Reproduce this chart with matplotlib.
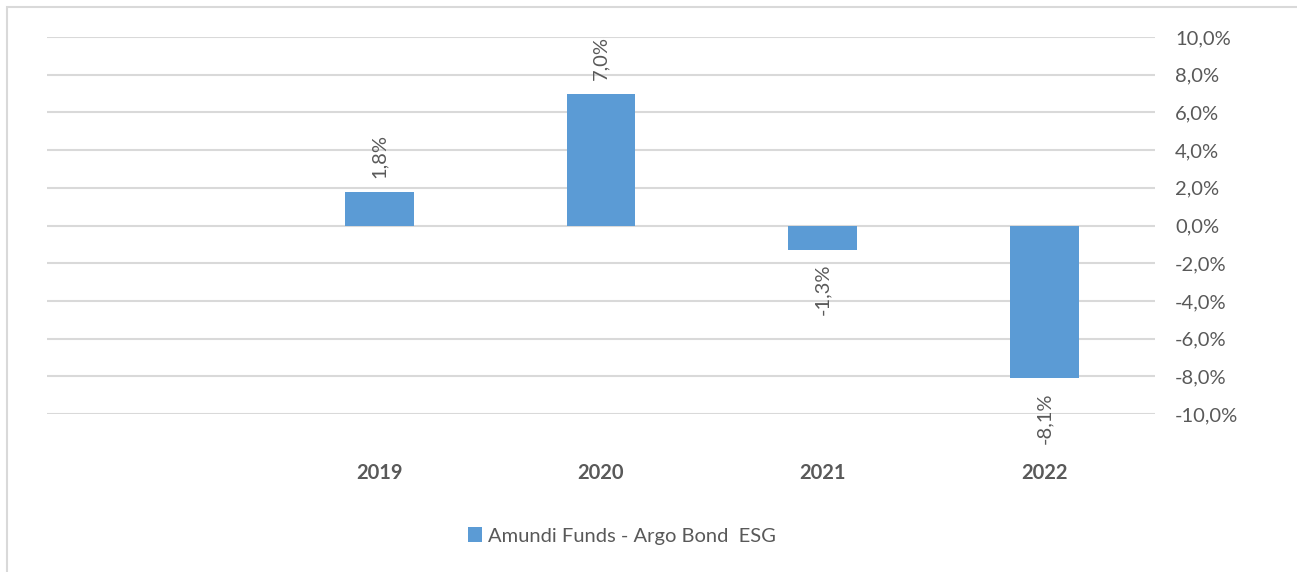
import numpy as np
import matplotlib
matplotlib.use('Agg')
import matplotlib.pyplot as plt
from matplotlib.patches import Rectangle

# Data
years = ['', '2019', '2020', '2021', '2022']
returns = [None, 1.8, 7.0, -1.3, -8.1]
series_name = 'Amundi Funds - Argo Bond  ESG'
y_ticks = [-10, -8, -6, -4, -2, 0, 2, 4, 6, 8, 10]

bar_color = '#5b9bd5'
text_color = '#595959'
grid_color = '#d9d9d9'
fs = 14.5

plt.rcParams['font.family'] = ['Lato', 'DejaVu Sans']

W, H = 1297, 572
fig = plt.figure(figsize=(W / 100, H / 100), dpi=100)
ax = fig.add_axes([47 / W, 1 - 414 / H, (1155 - 47) / W, (414 - 37) / H])

x = np.arange(len(years))
xs = [i for i, v in zip(x, returns) if v is not None]
vals = [v for v in returns if v is not None]
bars = ax.bar(xs, vals, width=0.31, color=bar_color, zorder=3, label=series_name)

# Data labels, rotated
for xi, v in zip(xs, vals):
    off = 10 if v >= 0 else -10
    ax.annotate(f'{v:.1f}%'.replace('.', ','), (xi, v), xytext=(0, off),
                textcoords='offset points', rotation=90, ha='center',
                va='bottom' if v >= 0 else 'top', fontsize=fs, color=text_color)

ax.set_xlim(-0.5, len(years) - 0.5)
ax.set_ylim(-10, 10)
ax.set_yticks(y_ticks)
ax.set_yticklabels([f'{t:.1f}%'.replace('.', ',') for t in y_ticks])
ax.yaxis.tick_right()
ax.tick_params(axis='y', length=0, pad=14.5, labelsize=fs, labelcolor=text_color)
ax.set_xticks(x)
ax.set_xticklabels(years, fontweight='bold')
ax.tick_params(axis='x', length=0, pad=35, labelsize=fs, labelcolor=text_color)

ax.grid(axis='y', color=grid_color, linewidth=1.5, zorder=0)
for s in ax.spines.values():
    s.set_visible(False)

# Chart border
fig.add_artist(Rectangle((7 / W, -0.1), 1.2, 1 - 7 / H + 0.1, transform=fig.transFigure,
                         fill=False, edgecolor=grid_color, linewidth=1.5))

leg = fig.legend(handles=[bars], labels=[series_name], loc='center',
                 bbox_to_anchor=(622 / W, 1 - 536 / H), frameon=False,
                 handlelength=0.7, handleheight=0.7, handletextpad=0.3,
                 fontsize=fs, labelcolor=text_color)

fig.savefig('out.png', dpi=100)
